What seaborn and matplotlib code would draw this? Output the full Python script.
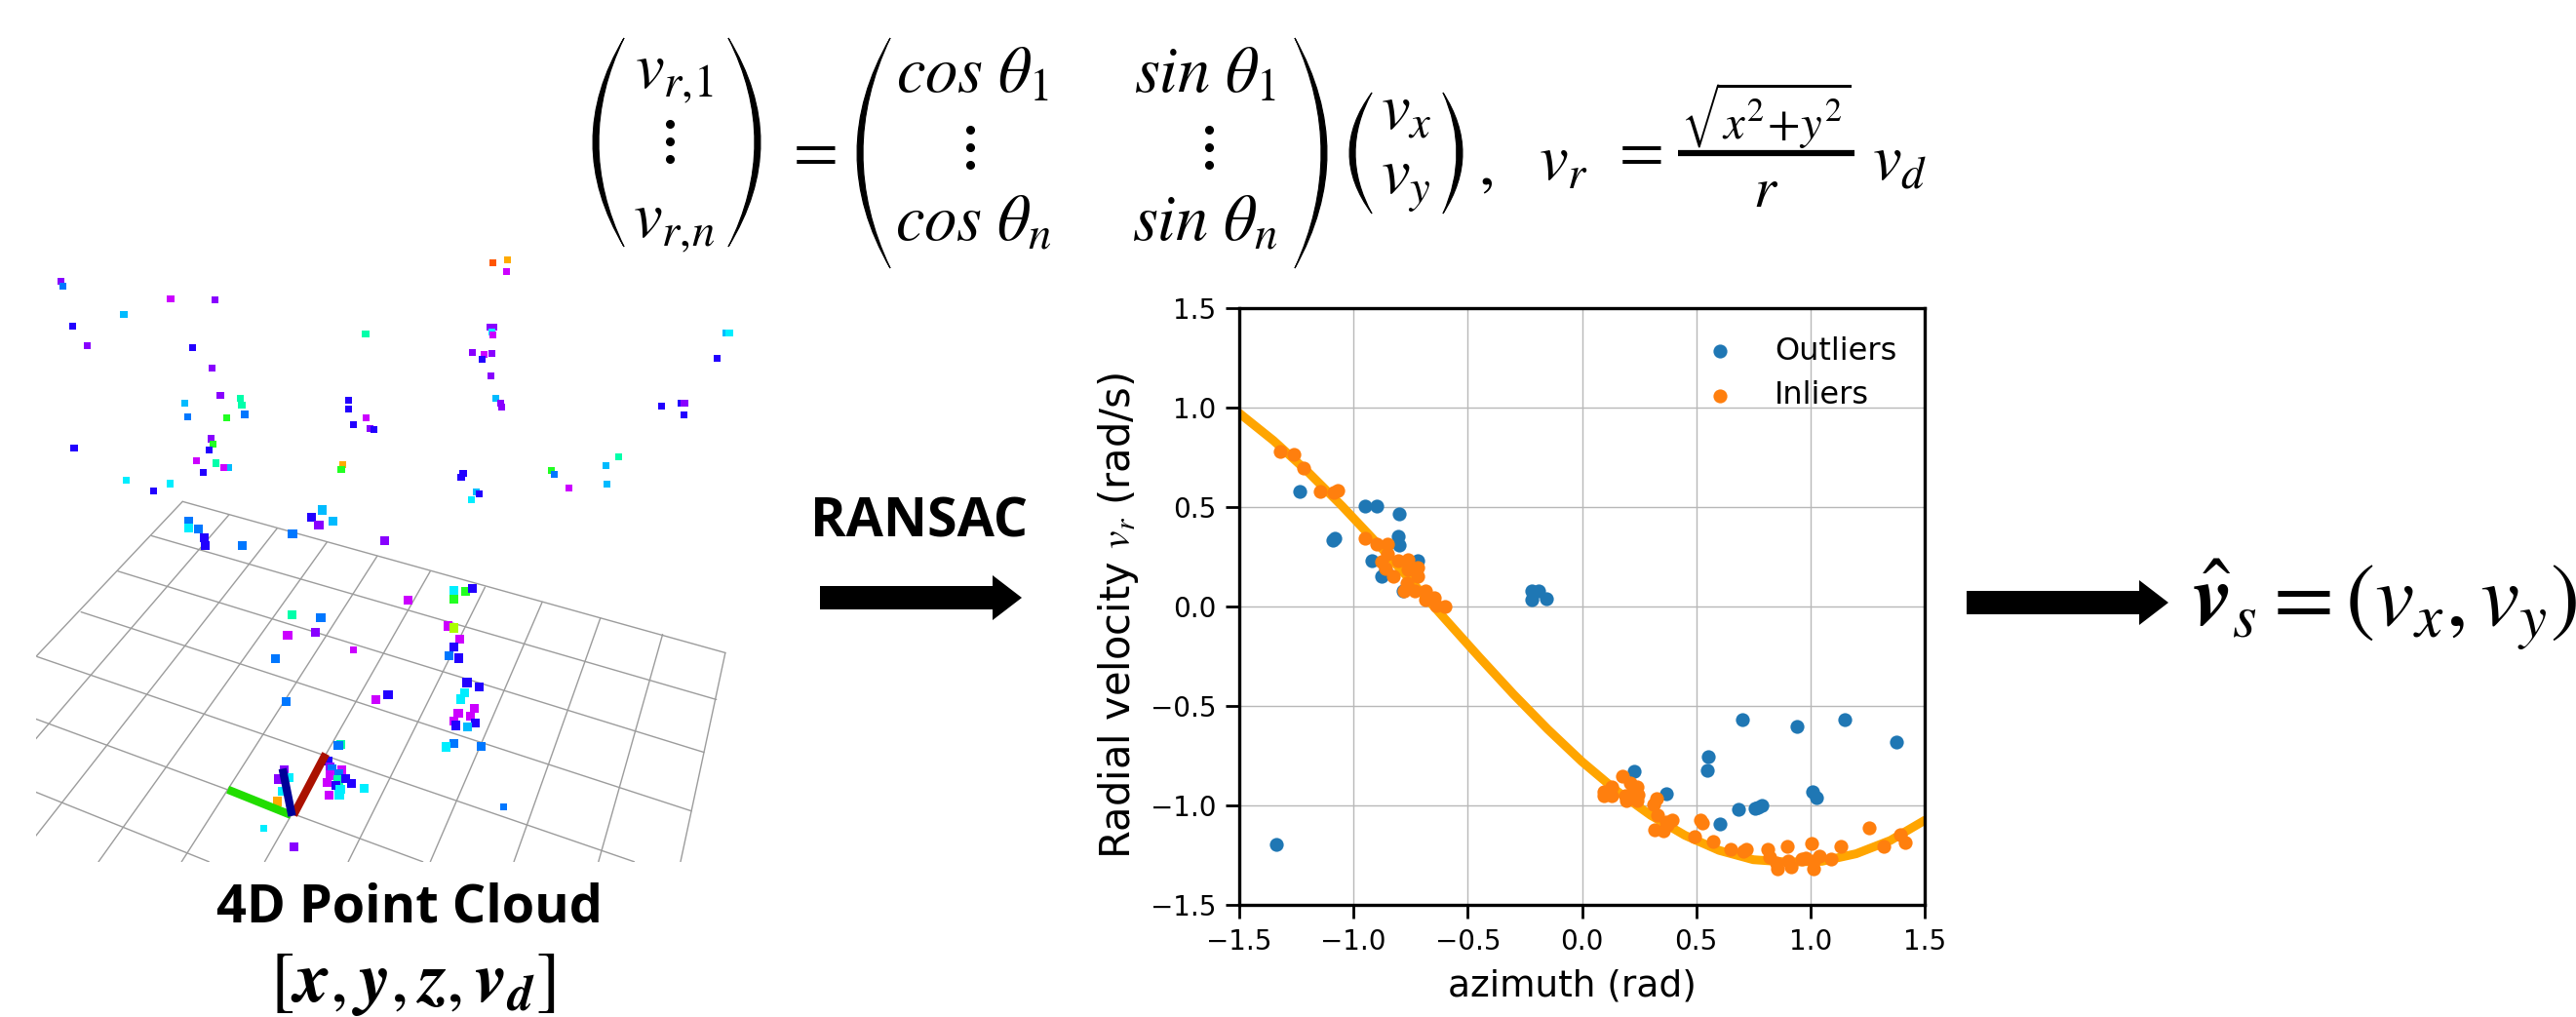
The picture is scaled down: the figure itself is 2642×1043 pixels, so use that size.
import matplotlib
matplotlib.use("Agg")
import matplotlib.pyplot as plt
import pandas as pd
import seaborn as sns
from matplotlib.patches import FancyArrow, PathPatch
from matplotlib.path import Path

# ---------- RANSAC scatter values ----------
outlier_az = [-1.235,-0.95,-0.897,-0.80,-0.804,-0.80,-1.09,-1.08,-0.92,-0.718,-0.875,-0.86,-0.784,
              -0.22,-0.189,-0.22,-0.157,0.23,0.37,0.552,0.549,0.70,0.94,1.148,1.378,0.605,0.684,
              0.758,0.77,0.787,1.011,1.028,-1.338]
outlier_v = [0.58,0.505,0.505,0.467,0.351,0.309,0.335,0.341,0.229,0.232,0.15,0.18,0.077,
             0.08,0.08,0.036,0.04,-0.83,-0.943,-0.753,-0.822,-0.567,-0.603,-0.569,-0.683,-1.095,-1.018,
             -1.015,-1.01,-0.998,-0.931,-0.962,-1.196]
inlier_az = [-1.32,-1.26,-1.218,-1.147,-1.088,-1.069,-0.951,-0.897,-0.85,-0.85,-0.877,-0.858,-0.826,
             -0.804,-0.76,-0.718,-0.76,-0.72,-0.767,-0.78,-0.73,-0.686,-0.686,-0.647,-0.637,-0.60,
             0.179,0.094,0.094,0.132,0.132,0.213,0.242,0.189,0.246,0.196,0.239,0.218,0.326,0.314,
             0.331,0.395,0.367,0.317,0.356,0.374,0.519,0.528,0.495,0.575,0.651,0.708,0.72,0.812,
             0.822,0.851,0.856,0.898,0.903,0.916,0.964,0.98,1.007,1.014,1.014,1.04,1.092,1.135,
             1.257,1.321,1.395,1.415]
inlier_v = [0.779,0.766,0.697,0.58,0.575,0.581,0.341,0.312,0.313,0.264,0.227,0.191,0.15,
            0.232,0.235,0.194,0.188,0.15,0.118,0.077,0.077,0.08,0.036,0.044,0.003,0.0,
            -0.853,-0.931,-0.953,-0.907,-0.953,-0.887,-0.907,-0.953,-0.948,-0.977,-0.977,-0.936,-0.964,-0.993,
            -1.051,-1.075,-1.083,-1.121,-1.127,-1.1,-1.072,-1.088,-1.155,-1.18,-1.219,-1.23,-1.222,-1.219,
            -1.26,-1.288,-1.319,-1.208,-1.279,-1.309,-1.271,-1.265,-1.19,-1.279,-1.317,-1.257,-1.268,-1.208,
            -1.111,-1.208,-1.149,-1.185]
curve_az = [-1.5,-1.35,-1.2,-1.05,-0.9,-0.75,-0.6,-0.45,-0.3,-0.15,0,0.15,0.3,0.45,0.6,0.75,0.9,1.05,1.2,1.35,1.5]
curve_v = [0.972,0.834,0.677,0.505,0.322,0.131,-0.062,-0.254,-0.441,-0.617,-0.78,-0.925,-1.049,-1.15,
           -1.226,-1.273,-1.285,-1.281,-1.243,-1.176,-1.075]
axis_ticks = [-1.5,-1.0,-0.5,0.0,0.5,1.0,1.5]

# ---------- point cloud ----------
far_pts = [(990,38,'redorange'),(1021,32,'orange'),(1018,56,'magenta'),(122,76,'violet'),(127,85,'azure'),
 (343,110,'magenta'),(433,112,'violet'),(249,142,'aqua'),(146,166,'indigo'),(175,205,'violet'),(735,181,'mint'),
 (985,168,'violet'),(993,167,'violet'),(988,178,'cyan'),(991,183,'magenta'),(950,219,'violet'),(973,222,'magenta'),
 (969,232,'indigo'),(988,220,'violet'),(986,266,'violet'),(387,208,'indigo'),(426,250,'violet'),(1459,179,'aqua'),
 (1466,179,'cyan'),(1442,230,'indigo'),(443,305,'violet'),(483,310,'mint'),(486,324,'mint'),(371,321,'aqua'),
 (378,347,'azure'),(455,350,'green'),(492,343,'azure'),(700,314,'indigo'),(700,333,'indigo'),(736,350,'magenta'),
 (710,364,'indigo'),(743,372,'violet'),(752,374,'indigo'),(997,311,'aqua'),(1006,321,'violet'),(1009,328,'violet'),
 (1329,327,'indigo'),(1369,321,'indigo'),(1376,320,'violet'),(1375,344,'indigo'),(149,410,'indigo'),(424,392,'violet'),
 (429,403,'green'),(421,414,'indigo'),(395,436,'magenta'),(435,441,'mint'),(459,450,'aqua'),(449,450,'magenta'),
 (409,460,'indigo'),(689,444,'orange'),(686,454,'green'),(931,461,'indigo'),(927,470,'indigo'),(1108,456,'green'),
 (1114,463,'azure'),(1143,490,'magenta'),(1219,446,'aqua'),(1243,428,'mint'),(1220,483,'aqua'),(254,476,'cyan'),
 (308,496,'indigo'),(342,482,'cyan'),(958,498,'aqua'),(963,502,'indigo'),(948,514,'cyan'),(710,817,'magenta'),
 (1012,1132,'azure'),(531,1174,'cyan')]
near_pts = [(379,558,'azure'),(379,572,'cyan'),(399,573,'azure'),(410,591,'indigo'),(413,606,'indigo'),(487,607,'azure'),
 (588,583,'azure'),(648,535,'aqua'),(626,550,'indigo'),(641,565,'violet'),(670,558,'aqua'),(773,596,'violet'),
 (820,717,'magenta'),(912,697,'cyan'),(936,699,'green'),(950,693,'indigo'),(913,715,'green'),(587,746,'mint'),
 (645,752,'azure'),(578,787,'magenta'),(634,781,'violet'),(553,834,'azure'),(900,768,'magenta'),(912,772,'lime'),
 (924,795,'magenta'),(913,811,'indigo'),(903,828,'azure'),(922,833,'indigo'),(575,920,'azure'),(756,916,'magenta'),
 (780,907,'indigo'),(939,882,'indigo'),(963,890,'indigo'),(934,902,'cyan'),(926,915,'cyan'),(953,934,'magenta'),
 (921,944,'magenta'),(946,950,'magenta'),(912,960,'magenta'),(916,968,'indigo'),(956,963,'indigo'),(940,971,'aqua'),
 (913,1004,'azure'),(896,1011,'cyan'),(967,1010,'azure'),(685,1007,'mint'),(680,1008,'azure'),(660,1040,'indigo'),
 (663,1052,'violet'),(687,1057,'magenta'),(668,1055,'azure'),(680,1065,'azure'),(663,1068,'magenta'),(571,1057,'violet'),
 (559,1076,'violet'),(580,1073,'cyan'),(567,1100,'cyan'),(558,1121,'orange'),(680,1078,'mint'),(657,1082,'magenta'),
 (675,1088,'indigo'),(695,1075,'indigo'),(707,1084,'indigo'),(732,1094,'cyan'),(684,1097,'cyan'),(682,1107,'cyan'),
 (661,1108,'magenta'),(591,1212,'violet')]
cloud_palette = {'redorange':'#ff5500','orange':'#ffaa00','magenta':'#cc00ff','violet':'#8800ff','indigo':'#2200ff',
                 'azure':'#0077ff','aqua':'#00bbff','cyan':'#00eeff','mint':'#00ffaa','green':'#22ff22','lime':'#aaff00'}
grid_lines = [((367,518),(1458,822)),((305,587),(1440,916)),((237,658),(1415,1022)),((163,740),(1390,1140)),
              ((75,830),(1275,1242)),((72,955),(850,1242)),((72,1102),(420,1242)),
              ((367,518),(72,830)),((460,545),(72,995)),((557,572),(72,1190)),((657,600),(198,1242)),((758,628),(365,1242)),
              ((865,658),(532,1242)),((975,690),(700,1242)),((1090,720),(865,1242)),((1207,752),(1033,1242)),
              ((1332,785),(1203,1242)),((1458,822),(1368,1242))]
triad = [((458,1097),(585,1148),'#22dd00'),((590,1148),(655,1025),'#aa1100'),((568,1055),(587,1150),'#000099')]

sns.set_theme(style='white')
plt.rcParams['font.family'] = ['DejaVu Sans']
plt.rcParams['mathtext.fontset'] = 'stix'
plt.rcParams['text.color'] = 'black'
W, H = 2642, 1043
fig = plt.figure(figsize=(W/100, H/100), dpi=100, facecolor='white')

# overlay in figure pixels: equation, arrows, captions
ov = fig.add_axes([0,0,1,1]); ov.set_xlim(0,W); ov.set_ylim(H,0); ov.axis('off')
MATH = dict(ha='center', va='center', color='black', math_fontfamily='stix')
def T(x,y,s,size=48,**k):
    ov.text(x,y,s,fontsize=size,**{**MATH,**k})
def paren(x0,x1,y0,y1,th=6):
    # tapered bracket: x0 = tip side, x1 = belly side
    s = 1 if x1 > x0 else -1
    bx = 2*x1 - x0
    mid = (y0+y1)/2
    p = Path([(x0,y0),(bx,mid),(x0,y1),(bx-s*th*2,mid),(x0,y0)],
             [Path.MOVETO,Path.CURVE3,Path.CURVE3,Path.CURVE3,Path.CURVE3])
    ov.add_patch(PathPatch(p,fc='black',ec='black',lw=0.8))
for a,b,t,bm in [(640,608,39,253),(747,780,39,253),(913,879,39,275),(1328,1361,39,275),(1407,1384,95,219),(1480,1500,95,219)]:
    paren(a,b,t,bm)
def vdots(x,y0):
    for d in (0,18,36):
        ov.plot([x],[y0+d],'o',ms=5.5,color='black')
T(691,75,r'$v_{r,\!1}$'); vdots(687,127); T(691,228,r'$v_{r,\!n}$')
T(831,155,r'$=$'); T(998,75,r'$cos\ \theta_1$'); T(1236,75,r'$sin\ \theta_1$')
vdots(995,133); vdots(1240,133)
T(998,228,r'$cos\ \theta_n$'); T(1236,228,r'$sin\ \theta_n$')
T(1442,113,r'$v_x$'); T(1442,187,r'$v_y$'); T(1523,170,r'$,$')
T(1603,165,r'$v_r$'); T(1678,155,r'$=$')
ov.plot([1721,1902],[157,157],color='black',lw=4.5,solid_capstyle='butt')
T(1811,118,r'$\sqrt{x^2\!+\!y^2}$',size=35); T(1811,195,r'$r$',size=42); T(1948,165,r'$v_d$')

ov.text(943,536,'RANSAC',fontsize=40,fontweight='bold',family='Open Sans',ha='center',va='center',color='black')
ov.text(420,931,'4D Point Cloud',fontsize=39,fontweight='bold',family='Open Sans',ha='center',va='center',color='black')
T(423,1008,r'$[\mathbfit{x},\mathbfit{y},\mathbfit{z},\mathbfit{v}_{\mathbfit{d}}]$',size=53)
T(2446,620,r'$\hat{\mathbfit{v}}_s=\left(v_x,v_y\right)$',size=65)
for x0,x1,y in [(841,1048,613),(2017,2224,618)]:
    ov.add_patch(FancyArrow(x0,y,x1-x0,0,width=24,head_width=46,head_length=30,length_includes_head=True,color='black',lw=0))

# point cloud panel, in crop coordinates
cl = fig.add_axes([0,0,800/W,793/H]); cl.set_xlim(0,1568); cl.set_ylim(1554,0); cl.axis('off'); cl.patch.set_alpha(0)
clip = plt.Rectangle((72,0),1500,1242,transform=cl.transData)
for (a,b) in grid_lines:
    l, = cl.plot([a[0],b[0]],[a[1],b[1]],color='#9c9c9c',lw=1.0)
    l.set_clip_path(clip)
for name,pts,size in [('far',far_pts,26),('near',near_pts,44)]:
    df = pd.DataFrame(pts,columns=['x','y','c'])
    sns.scatterplot(data=df,x='x',y='y',hue='c',palette=cloud_palette,marker='s',s=size,linewidth=0,legend=False,ax=cl,zorder=3)
for a,b,c in triad:
    cl.plot([a[0],b[0]],[a[1],b[1]],color=c,lw=6,solid_capstyle='butt',zorder=4)
cl.set_xlabel(''); cl.set_ylabel('')

# chart
ax = fig.add_axes([1271/W,1-928/H,703/W,612/H])
ax.grid(True,color='#b8b8b8',lw=1.0)
ax.set_axisbelow(True)
sns.lineplot(x=curve_az,y=curve_v,color='orange',lw=6.5,ax=ax,legend=False,sort=False,errorbar=None,zorder=2)
sns.scatterplot(x=outlier_az,y=outlier_v,color='#1f77b4',s=105,linewidth=0,label='Outliers',ax=ax,zorder=3)
sns.scatterplot(x=inlier_az,y=inlier_v,color='#ff7f0e',s=105,linewidth=0,label='Inliers',ax=ax,zorder=4)
ax.set_xlim(-1.5,1.5); ax.set_ylim(-1.5,1.5)
ax.set_xticks(axis_ticks); ax.set_yticks(axis_ticks)
ax.tick_params(labelsize=20,length=10,width=2,color='black',left=True,bottom=True,labelcolor='black',pad=7)
for s in ax.spines.values():
    s.set_visible(True); s.set_color('black'); s.set_linewidth(2.4)
ax.set_xlabel('azimuth (rad)',fontsize=27,color='black',labelpad=10,x=0.485)
ax.set_ylabel(r'Radial velocity $v_r$ (rad/s)',fontsize=30,color='black',labelpad=7,y=0.485)
ax.legend(frameon=False,fontsize=23,loc='upper right',bbox_to_anchor=(1.0,1.0),handletextpad=0.75,labelspacing=0.45,
          labelcolor='black')
fig.savefig('out.png',dpi=100,facecolor='white')
